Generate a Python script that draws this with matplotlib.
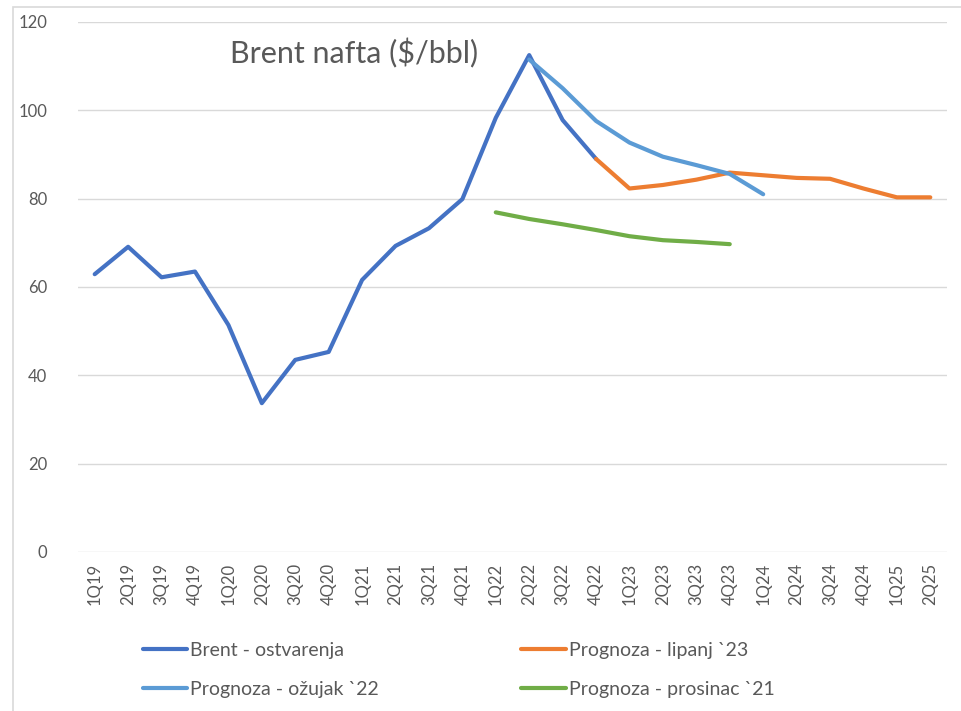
import numpy as np
import matplotlib.pyplot as plt
from matplotlib.patches import Rectangle

plt.rcParams['font.family'] = ['Lato', 'DejaVu Sans']

# Kvartali
quarters = ['1Q19', '2Q19', '3Q19', '4Q19', '1Q20', '2Q20', '3Q20', '4Q20',
            '1Q21', '2Q21', '3Q21', '4Q21', '1Q22', '2Q22', '3Q22', '4Q22',
            '1Q23', '2Q23', '3Q23', '4Q23', '1Q24', '2Q24', '3Q24', '4Q24',
            '1Q25', '2Q25']

nan = np.nan
# Brent - ostvarenja
brent = [62.9, 69.1, 62.2, 63.5, 51.4, 33.7, 43.5, 45.3,
         61.6, 69.3, 73.3, 79.9, 98.3, 112.5, 97.8, 89.0,
         nan, nan, nan, nan, nan, nan, nan, nan, nan, nan]
# Prognoza - lipanj `23
lipanj23 = [nan] * 15 + [89.0, 82.3, 83.1, 84.3, 85.9, 85.3, 84.7, 84.5, 82.3, 80.3, 80.3]
# Prognoza - ožujak `22
ozujak22 = [nan] * 13 + [111.5, 105.0, 97.6, 92.7, 89.5, 87.6, 85.6, 81.0] + [nan] * 5
# Prognoza - prosinac `21
prosinac21 = [nan] * 12 + [76.9, 75.4, 74.2, 72.9, 71.5, 70.6, 70.2, 69.7] + [nan] * 6

text_col = '#595959'

fig = plt.figure(figsize=(9.61, 7.11), dpi=100)
fig.patches.append(Rectangle((13 / 961, -0.1), 1.2, (711 - 7) / 711 + 0.1,
                             transform=fig.transFigure, fill=False,
                             edgecolor='#D9D9D9', lw=1.2))
ax = fig.add_axes([78 / 961, (711 - 552) / 711, (947 - 78) / 961, (552 - 22) / 711])

x = np.arange(len(quarters))
l1, = ax.plot(x, brent, color='#4472C4', lw=3, solid_capstyle='round', label='Brent - ostvarenja')
l2, = ax.plot(x, lipanj23, color='#ED7D31', lw=3, solid_capstyle='round', label='Prognoza - lipanj `23')
l3, = ax.plot(x, ozujak22, color='#5B9BD5', lw=3, solid_capstyle='round', label='Prognoza - ožujak `22')
l4, = ax.plot(x, prosinac21, color='#70AD47', lw=3, solid_capstyle='round', label='Prognoza - prosinac `21')

ax.set_xlim(-0.5, len(quarters) - 0.5)
ax.set_ylim(0, 120)
ax.set_yticks(range(0, 121, 20))
ax.set_xticks(x)
ax.set_xticklabels(quarters, rotation=90)
ax.grid(axis='y', color='#D9D9D9', lw=1)
ax.set_axisbelow(True)
for s in ax.spines.values():
    s.set_visible(False)
ax.tick_params(axis='both', length=0, colors=text_col, labelsize=12)
ax.tick_params(axis='y', pad=22)
ax.tick_params(axis='x', pad=8)

ax.text(0.175, 0.94, 'Brent nafta ($/bbl)', transform=ax.transAxes,
        fontsize=22, color=text_col, va='center', ha='left')

fig.legend([l1, l3, l2, l4],
           [l1.get_label(), l3.get_label(), l2.get_label(), l4.get_label()],
           ncol=2, loc='center left', bbox_to_anchor=(133 / 961, 1 - 670 / 711),
           frameon=False, fontsize=14, labelcolor=text_col, borderpad=0,
           handlelength=2.3, handletextpad=0.15, columnspacing=7.3,
           labelspacing=1.15)

fig.savefig('out.png', dpi=100)
